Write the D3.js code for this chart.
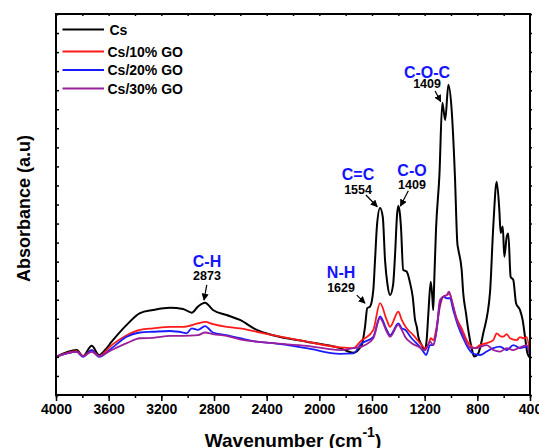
<!DOCTYPE html>
<html><head>
<meta charset="utf-8">
<script src="https://d3js.org/d3.v7.min.js"></script>
<style>
  body { margin: 0; background: #fff; }
  svg text { font-family: "Liberation Sans", Arial, sans-serif; font-weight: bold; }
</style>
</head>
<body>
<svg id="chart" width="539" height="448"></svg>
<script>
// FTIR spectra, [wavenumber, absorbance (a.u., frame = 0..1)]
const cs = [
  [4000,0.100],[3843,0.118],[3795,0.102],[3729,0.129],[3673,0.105],[3628,0.118],[3577,0.140],
  [3463,0.184],[3362,0.215],[3263,0.223],[3134,0.229],[3035,0.226],[2969,0.216],[2922,0.232],
  [2868,0.242],[2808,0.223],[2704,0.210],[2603,0.197],[2476,0.171],[2352,0.157],[2096,0.140],
  [1843,0.123],[1742,0.111],[1678,0.131],[1653,0.179],[1636,0.228],[1615,0.232],[1590,0.276],
  [1577,0.354],[1562,0.446],[1539,0.491],[1518,0.467],[1501,0.354],[1482,0.289],[1463,0.262],
  [1440,0.289],[1425,0.367],[1410,0.472],[1400,0.497],[1387,0.472],[1380,0.441],[1363,0.328],
  [1337,0.324],[1311,0.294],[1291,0.258],[1273,0.197],[1260,0.179],[1248,0.153],[1230,0.136],
  [1210,0.123],[1197,0.118],[1185,0.144],[1172,0.214],[1154,0.297],[1142,0.258],[1135,0.223],
  [1127,0.302],[1114,0.433],[1088,0.577],[1066,0.767],[1044,0.722],[1020,0.814],[995,0.748],
  [970,0.573],[952,0.399],[944,0.381],[919,0.328],[907,0.267],[886,0.214],[869,0.171],
  [843,0.123],[825,0.101],[795,0.108],[755,0.162],[704,0.268],[679,0.442],[653,0.560],
  [633,0.486],[623,0.425],[607,0.442],[595,0.363],[577,0.415],[565,0.424],[547,0.310],
  [527,0.302],[506,0.241],[476,0.223],[456,0.197],[438,0.153],[420,0.110],[400,0.097]
];
const cs10 = [
  [4000,0.100],[3843,0.115],[3795,0.102],[3729,0.118],[3673,0.102],[3577,0.131],[3463,0.157],
  [3362,0.171],[3263,0.175],[3134,0.179],[3035,0.179],[2922,0.188],[2868,0.192],[2808,0.186],
  [2704,0.179],[2603,0.175],[2476,0.166],[2352,0.157],[2096,0.140],[1843,0.125],[1742,0.123],
  [1678,0.144],[1653,0.149],[1590,0.171],[1539,0.241],[1488,0.197],[1463,0.179],[1400,0.219],
  [1374,0.197],[1337,0.175],[1286,0.157],[1235,0.136],[1197,0.123],[1172,0.131],[1154,0.149],
  [1135,0.144],[1109,0.179],[1084,0.232],[1059,0.258],[1033,0.262],[1013,0.267],[983,0.232],
  [957,0.201],[919,0.175],[881,0.144],[843,0.127],[818,0.123],[780,0.131],[729,0.136],
  [679,0.144],[653,0.162],[628,0.155],[603,0.153],[577,0.160],[552,0.149],[501,0.144],
  [476,0.152],[451,0.149],[425,0.152],[400,0.105]
];
const cs20 = [
  [4000,0.100],[3843,0.113],[3795,0.100],[3729,0.118],[3673,0.100],[3577,0.123],[3463,0.153],
  [3362,0.164],[3263,0.166],[3134,0.168],[3035,0.164],[3007,0.162],[2969,0.175],[2922,0.171],
  [2868,0.181],[2808,0.164],[2704,0.157],[2603,0.149],[2476,0.140],[2352,0.136],[2096,0.123],
  [1843,0.108],[1742,0.109],[1678,0.136],[1653,0.140],[1590,0.153],[1539,0.206],[1488,0.171],
  [1463,0.157],[1400,0.188],[1374,0.175],[1349,0.171],[1299,0.149],[1248,0.131],[1210,0.114],
  [1189,0.105],[1159,0.131],[1135,0.131],[1109,0.171],[1084,0.241],[1059,0.258],[1033,0.254],
  [1008,0.254],[983,0.223],[944,0.179],[907,0.149],[869,0.123],[831,0.109],[780,0.105],
  [729,0.114],[679,0.123],[628,0.127],[577,0.118],[527,0.131],[476,0.123],[425,0.127],[400,0.105]
];
const cs30 = [
  [4000,0.100],[3843,0.113],[3795,0.102],[3729,0.113],[3673,0.102],[3577,0.118],[3463,0.136],
  [3362,0.149],[3263,0.150],[3134,0.155],[3035,0.155],[2922,0.157],[2868,0.164],[2808,0.160],
  [2704,0.155],[2603,0.146],[2476,0.140],[2352,0.136],[2096,0.129],[1843,0.118],[1742,0.123],
  [1678,0.127],[1653,0.131],[1590,0.149],[1539,0.201],[1488,0.166],[1463,0.153],[1400,0.184],
  [1374,0.171],[1349,0.153],[1299,0.136],[1248,0.127],[1197,0.118],[1159,0.140],[1135,0.131],
  [1109,0.171],[1084,0.249],[1059,0.258],[1033,0.262],[1016,0.271],[995,0.249],[957,0.197],
  [919,0.166],[881,0.136],[843,0.123],[805,0.123],[780,0.126],[729,0.131],[679,0.118],
  [628,0.114],[577,0.123],[527,0.118],[476,0.125],[425,0.131],[400,0.105]
];

const seriesNames = ["Cs", "Cs/10% GO", "Cs/20% GO", "Cs/30% GO"];
const seriesColors = ["#000000", "#ff1a1a", "#1a1aff", "#9b1f9b"];
const seriesData = [cs, cs10, cs20, cs30];

const xMajorTicks = [4000, 3600, 3200, 2800, 2400, 2000, 1600, 1200, 800, 400];

// peak annotations: label, number, text anchor [wn, abs], arrow from / to [wn, abs]
const annLabels  = ["C-H", "N-H", "C=C", "C-O", "C-O-C"];
const annNumbers = ["2873", "1629", "1554", "1409", "1409"];
const annText    = [[2853,0.336],[1835,0.307],[1706,0.563],[1296,0.576],[1182,0.831]];
const annFrom    = [[2855,0.289],[1716,0.262],[1646,0.525],[1324,0.536],[1121,0.798]];
const annTo      = [[2876,0.249],[1653,0.241],[1560,0.494],[1384,0.496],[1078,0.770]];
const annGap     = [13, 14, 13.5, 13, 10];

const svg = d3.select("#chart");
const margin = {top: 14, right: 9, bottom: 53, left: 56};
const w = 539 - margin.left - margin.right;
const h = 448 - margin.top - margin.bottom;

const x = d3.scaleLinear().domain([4000, 400]).range([0, w]);
const y = d3.scaleLinear().domain([0, 1]).range([h, 0]);

const g = svg.append("g").attr("transform", "translate(" + margin.left + "," + margin.top + ")");

// arrow head
svg.append("defs").append("marker")
  .attr("id", "arr").attr("viewBox", "0 0 10 10")
  .attr("refX", 9).attr("refY", 5)
  .attr("markerWidth", 6).attr("markerHeight", 6)
  .attr("orient", "auto")
  .append("path").attr("d", "M0,0 L10,5 L0,10 z").attr("fill", "#000");

// curves
const line = d3.line().x(d => x(d[0])).y(d => y(d[1])).curve(d3.curveMonotoneX);
seriesData.forEach((s, i) => {
  g.append("path").datum(s)
    .attr("d", line)
    .attr("fill", "none")
    .attr("stroke", seriesColors[i])
    .attr("stroke-width", i == 0 ? 2 : 1.8)
    .attr("stroke-linejoin", "round");
});

// axes
const minorTicks = d3.range(400, 4001, 200);
const yTicks = d3.range(0, 1.0001, 0.05);

g.append("g").attr("transform", "translate(0," + h + ")")
  .call(d3.axisBottom(x).tickValues(minorTicks).tickSize(3).tickFormat(""));
g.append("g").attr("class", "xaxis").attr("transform", "translate(0," + h + ")")
  .call(d3.axisBottom(x).tickValues(xMajorTicks).tickSize(6).tickPadding(3).tickFormat(d3.format("d")));
g.append("g").call(d3.axisTop(x).tickValues(minorTicks).tickSize(-2).tickFormat(""));
g.append("g").call(d3.axisLeft(y).tickValues(yTicks).tickSize(-3).tickFormat(""));
g.append("g").attr("transform", "translate(" + w + ",0)")
  .call(d3.axisRight(y).tickValues(yTicks).tickSize(2).tickFormat(""));

g.selectAll(".domain").remove();
g.selectAll(".tick line").attr("stroke", "#000").attr("stroke-width", 1.5);
g.selectAll(".xaxis text").attr("font-size", 14).attr("fill", "#000")
  .style("font-family", "'Liberation Sans', Arial, sans-serif").style("font-weight", "bold");

g.append("rect").attr("width", w).attr("height", h)
  .attr("fill", "none").attr("stroke", "#000").attr("stroke-width", 2);

// axis titles
const xt = svg.append("text")
  .attr("x", margin.left + w / 2).attr("y", 446.5)
  .attr("text-anchor", "middle").attr("font-size", 19);
xt.append("tspan").text("Wavenumber (cm");
xt.append("tspan").attr("font-size", 14).attr("dy", -10).text("-1");
xt.append("tspan").attr("dy", 10).text(")");

svg.append("text")
  .attr("transform", "translate(30," + (margin.top + h / 2 + 4) + ") rotate(-90)")
  .attr("text-anchor", "middle").attr("font-size", 18)
  .text("Absorbance (a.u)");

// legend
const legY = [29.5, 51.5, 70, 88.5];
seriesNames.forEach((n, i) => {
  svg.append("line")
    .attr("x1", 62.5).attr("x2", 104).attr("y1", legY[i]).attr("y2", legY[i])
    .attr("stroke", seriesColors[i]).attr("stroke-width", 2);
  svg.append("text")
    .attr("x", i == 0 ? 109.5 : 107.5).attr("y", legY[i] + 5)
    .attr("font-size", 14).attr("fill", "#000")
    .text(n);
});

// annotations
annLabels.forEach((lab, i) => {
  const tx = x(annText[i][0]), ty = y(annText[i][1]);
  g.append("text").attr("x", tx).attr("y", ty)
    .attr("text-anchor", "middle").attr("font-size", 16).attr("fill", "#1414ff")
    .text(lab);
  g.append("text").attr("x", tx).attr("y", ty + annGap[i])
    .attr("text-anchor", "middle").attr("font-size", 12.5).attr("fill", "#000")
    .text(annNumbers[i]);
  g.append("line")
    .attr("x1", x(annFrom[i][0])).attr("y1", y(annFrom[i][1]))
    .attr("x2", x(annTo[i][0])).attr("y2", y(annTo[i][1]))
    .attr("stroke", "#000").attr("stroke-width", 1.2)
    .attr("marker-end", "url(#arr)");
});
</script>
</body>
</html>
